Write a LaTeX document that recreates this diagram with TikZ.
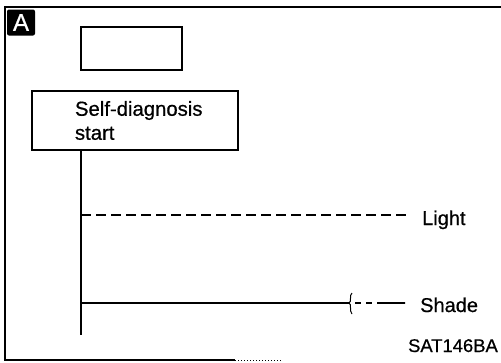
\documentclass[tikz,border=0pt]{standalone}
\usepackage{fontspec}
\setmainfont{Liberation Sans}[FakeBold=0.6]
\begin{document}
\begin{tikzpicture}[
        x=1pt, y=-1pt,
        box/.style={
            draw,
            line width=1.8pt,
            inner sep=0pt
        },
        lbl/.style={inner sep=0pt, font=\fontsize{20}{24}\selectfont},
        frame/.style={line width=2pt},
        wire/.style={line width=1.8pt},
        lightline/.style={line width=1.6pt, dash pattern=on 10pt off 5pt},
        shadeline/.style={line width=1.1pt, dash pattern=on 6pt off 5pt on 6pt off 5pt on 28pt off 0pt}
    ]
        \useasboundingbox (0,0) rectangle (501,362);
        % outer frame, open on the right
        \draw[frame] (501,6.5) -- (4.5,6.5) -- (4.5,360) -- (235,360);
        \draw[line width=1pt, dotted] (235,360) -- (282,360);

        \node[fill=black, text=white, rounded corners=2pt, minimum width=28pt, minimum height=26pt,
              inner sep=0pt, font=\fontsize{24}{24}\selectfont] (badge) at (21,22.5) {A};

        \node[box, minimum width=101pt, minimum height=43pt] (blank) at (131.5,48.5) {};
        \node[box, minimum width=206pt, minimum height=59pt, text width=120pt, inner xsep=43pt,
              align=left, font=\fontsize{20.3}{24}\selectfont] (diag) at (135,120.5) {\mbox{Self-diagnosis}\\start};

        \coordinate (trunkend) at (81,335);
        \coordinate (lightjoin) at (81,215);
        \coordinate (shadejoin) at (81,303);
        \coordinate (brace) at (349,303);

        \node[lbl, anchor=base west] (light) at (422,225) {Light};
        \node[lbl, anchor=base west] (shade) at (420,312) {Shade};
        \node[lbl, anchor=base east, font=\fontsize{18.4}{20}\selectfont] (code) at (498,352) {SAT146BA};

        \draw[wire] (trunkend |- diag.south) -- (trunkend);
        \draw[lightline] (lightjoin) -- ([xshift=-15pt]light.west |- lightjoin);
        \draw[wire, line width=1.5pt] (shadejoin) -- (brace);
        \draw[line width=1pt] ([shift={(3,-10)}]brace) .. controls ([shift={(0,-8)}]brace) and ([shift={(3,-1)}]brace) .. (brace)
            .. controls ([shift={(3,1)}]brace) and ([shift={(0,8)}]brace) .. ([shift={(3,11)}]brace);
        \draw[shadeline] ([xshift=6pt]brace) -- ([xshift=-15pt]shade.west |- brace);
    \end{tikzpicture}
\end{document}
